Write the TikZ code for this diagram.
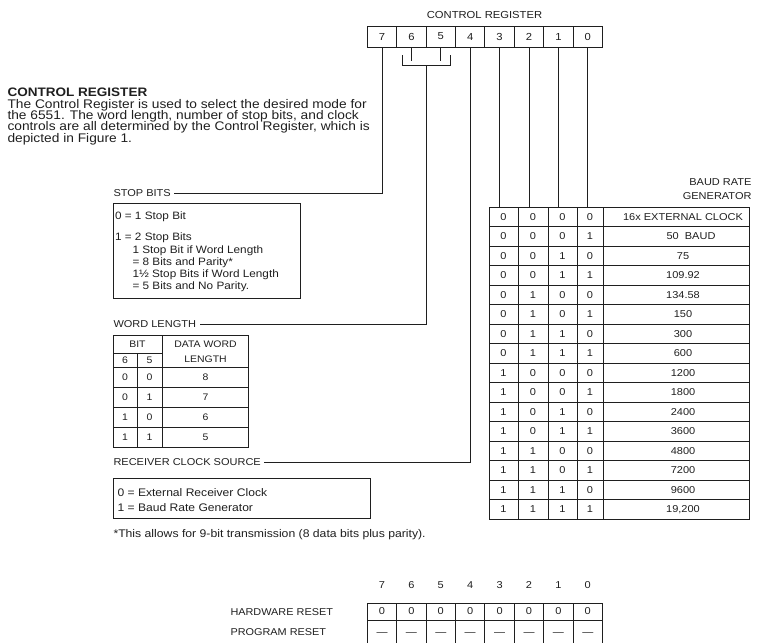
\documentclass[tikz,border=0pt]{standalone}
\usepackage{fontspec}
\setmainfont{Liberation Sans}[FakeStretch=1.1]
\newcommand\fsz[1]{\fontsize{#1}{#1}\selectfont}
\definecolor{ink}{gray}{0.12}
\begin{document}
\begin{tikzpicture}[x=1pt,y=-1pt, line width=1pt, color=ink,
  every node/.style={inner sep=0pt},
  lbl/.style={anchor=west, font=\fsz{10}, text height=7.2pt, text depth=0pt},
  tb/.style={anchor=west, font=\fsz{10.7}, text height=7.7pt, text depth=0pt},
  rb/.style={anchor=west, font=\fsz{11}, text height=7.9pt, text depth=0pt},
  para/.style={anchor=west, font=\fsz{12.5}, text height=9pt, text depth=0pt},
  dig/.style={font=\fsz{9.5}, text height=6.8pt, text depth=0pt},
  bdig/.style={font=\fsz{10}, text height=7.2pt, text depth=0pt},
  regcell/.style={draw, minimum width=29.4pt, minimum height=21pt, font=\fsz{10.2}},
  rstcell/.style={draw, minimum width=29.4pt, minimum height=17pt, font=\fsz{10}},
  boxx/.style={draw, anchor=north west},
]
\useasboundingbox (0,0) rectangle (758,643);

% ---------- top register ----------
\node[font=\fsz{10.2}, text height=7.3pt, text depth=0pt] (title) at (484.5,15) {CONTROL REGISTER};
\foreach \b [count=\i from 0] in {7,6,5,4,3,2,1,0}
  \node[regcell] (r\b) at ({382+29.4*\i},36.5) {\b};

% ---------- heading and paragraph ----------
\node[anchor=west, font=\bfseries\fsz{12.3}, text height=8.8pt, text depth=0pt] (head) at (7,92.5) {CONTROL REGISTER};
\node[para] (p1) at (7,103.5) {The Control Register is used to select the desired mode for};
\node[para] (p2) at (7,115) {the 6551. The word length, number of stop bits, and clock};
\node[para] (p3) at (7,126.3) {controls are all determined by the Control Register, which is};
\node[para] (p4) at (7,137.5) {depicted in Figure 1.};

% ---------- stop bits ----------
\node[lbl] (stoplbl) at (113,193) {STOP BITS};
\node[boxx, minimum width=187pt, minimum height=95pt] (stopbox) at (113,203) {};
\node[tb] (s1) at (114.5,215.5) {0 = 1 Stop Bit};
\node[tb] (s2) at (114.5,236.5) {1 = 2 Stop Bits};
\node[tb] (s3) at (132,250) {1 Stop Bit if Word Length};
\node[tb] (s4) at (132,261.7) {= 8 Bits and Parity*};
\node[tb] (s5) at (132,274) {1\textonehalf\ Stop Bits if Word Length};
\node[tb] (s6) at (132,286) {= 5 Bits and No Parity.};

% ---------- word length ----------
\node[lbl] (wordlbl) at (113,324) {WORD LENGTH};
\node[boxx, minimum width=135pt, minimum height=112pt] (wlbox) at (113,335) {};
\draw (162,335) -- (162,447);
\draw (137,353) -- (137,447);
\draw (113,353) -- (162,353);
\foreach \yy in {367,387,407,427} \draw (113,\yy) -- (248,\yy);
\node[dig] (wbit) at (137.5,344.5) {BIT};
\node[dig] (wdw) at (205.5,344.5) {DATA WORD};
\node[dig] (wlen) at (205.5,359.5) {LENGTH};
\node[dig] (w6) at (125,360) {6};
\node[dig] (w5) at (149.5,360) {5};
\foreach \a/\b/\v [count=\i from 0] in {0/0/8,0/1/7,1/0/6,1/1/5} {
  \node[dig] (wa\i) at (125,{377+20*\i}) {\a};
  \node[dig] (wb\i) at (149.5,{377+20*\i}) {\b};
  \node[dig] (wv\i) at (205.5,{377+20*\i}) {\v};
}

% ---------- receiver clock source ----------
\node[lbl] (rcvlbl) at (113,462) {RECEIVER CLOCK SOURCE};
\node[boxx, minimum width=257pt, minimum height=40pt] (rcvbox) at (113,478) {};
\node[rb] (rc1) at (117,493) {0 = External Receiver Clock};
\node[rb] (rc2) at (117,508) {1 = Baud Rate Generator};

\node[anchor=west, font=\fsz{11.1}, text height=8pt, text depth=0pt] (foot) at (113,533) {*This allows for 9-bit transmission (8 data bits plus parity).};

% ---------- baud rate generator ----------
\node[anchor=east, font=\fsz{10}, text height=7.2pt, text depth=0pt] (bg1) at (752,182) {BAUD RATE};
\node[anchor=east, font=\fsz{10}, text height=7.2pt, text depth=0pt] (bg2) at (752,196) {GENERATOR};
\node[boxx, minimum width=260pt, minimum height=312pt] (baudbox) at (489,207) {};
\coordinate (btop) at (0,207);
\foreach \xx in {518,548,577,603} \draw (\xx,207) -- (\xx,519);
\foreach \k in {1,...,15} \draw (489,{207+19.5*\k}) -- (749,{207+19.5*\k});
\foreach \a/\b/\c/\d/\v [count=\i from 0] in {
  0/0/0/0/16x EXTERNAL CLOCK, 0/0/0/1/\hspace*{16pt}50\ \ BAUD, 0/0/1/0/75, 0/0/1/1/109.92,
  0/1/0/0/134.58, 0/1/0/1/150, 0/1/1/0/300, 0/1/1/1/600,
  1/0/0/0/1200, 1/0/0/1/1800, 1/0/1/0/2400, 1/0/1/1/3600,
  1/1/0/0/4800, 1/1/0/1/7200, 1/1/1/0/9600, 1/1/1/1/19{,}200} {
  \node[bdig] (ba\i) at (503.5,{207+19.5*(\i+0.5)}) {\a};
  \node[bdig] (bb\i) at (533,{207+19.5*(\i+0.5)}) {\b};
  \node[bdig] (bc\i) at (562.5,{207+19.5*(\i+0.5)}) {\c};
  \node[bdig] (bd\i) at (590,{207+19.5*(\i+0.5)}) {\d};
  \node[bdig] (bv\i) at (683,{207+19.5*(\i+0.5)}) {\v};
}

% ---------- connectors from register ----------
\draw (r7.south) |- ([xshift=3pt]stoplbl.east);
\draw (r6.south) -- ++(0,13);
\draw (r5.south) -- ++(0,13);
\coordinate (brL) at (402,55);
\coordinate (brR) at (450,55);
\coordinate (brM) at (426,65);
\draw (brL) |- (brR |- brM) -- (brR);
\draw (brM) |- ([xshift=3pt]wordlbl.east);
\draw (r4.south) |- ([xshift=3pt]rcvlbl.east);
\foreach \b in {3,2,1,0} \draw (r\b.south) -- (r\b.south |- btop);

% ---------- reset values ----------
\node[anchor=west, font=\fsz{9.9}, text height=7.1pt, text depth=0pt] (hwr) at (230,611.5) {HARDWARE RESET};
\node[anchor=west, font=\fsz{9.9}, text height=7.1pt, text depth=0pt] (pgr) at (230,632) {PROGRAM RESET};
\foreach \b [count=\i from 0] in {7,6,5,4,3,2,1,0} {
  \node[bdig] (n\b) at ({382+29.4*\i},585) {\b};
  \node[rstcell] (h\b) at ({382+29.4*\i},611.5) {0};
  \node[bdig] (d\b) at ({382+29.4*\i},632) {\textemdash};
}
\foreach \k in {0,...,8} \draw ({367.3+29.4*\k},620) -- ({367.3+29.4*\k},643);
\end{tikzpicture}
\end{document}
